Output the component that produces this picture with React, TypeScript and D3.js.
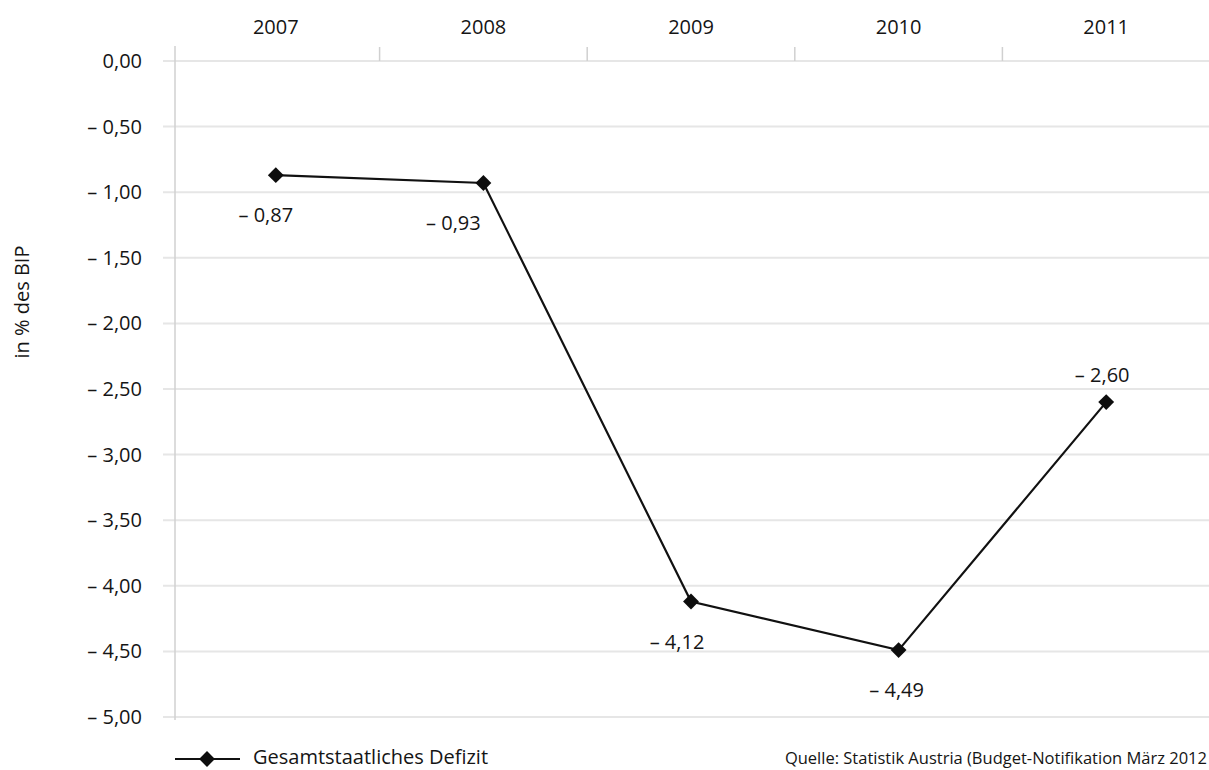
import React, { useEffect, useRef } from "react";
import * as d3 from "d3";

const years = ["2007", "2008", "2009", "2010", "2011"];
const deficit = [-0.87, -0.93, -4.12, -4.49, -2.6];
const yTicks = [0, -0.5, -1, -1.5, -2, -2.5, -3, -3.5, -4, -4.5, -5];
const seriesName = "Gesamtstaatliches Defizit";
const yTitle = "in % des BIP";
const sourceText = "Quelle: Statistik Austria (Budget-Notifikation März 2012";

// label layout (style, not data)
const labelSide = ["below", "below", "below", "below", "above"];
const labelDx = [-10, -30, -14, -2, -4];

const W = 1209;
const H = 770;
const FONT = "'Open Sans', 'Noto Sans', sans-serif";
const INK = "#151515";

const fmt = (v: number) => {
  const s = Math.abs(v).toFixed(2).replace(".", ",");
  return v < 0 ? "– " + s : s;
};

export default function App() {
  const ref = useRef<SVGSVGElement | null>(null);

  useEffect(() => {
    const svg = d3.select(ref.current);
    svg.selectAll("*").remove();

    const x = d3.scaleBand<string>().domain(years).range([172, 1210]);
    const y = d3.scaleLinear().domain([0, -5]).range([61, 717]);
    const cx = (d: string) => (x(d) as number) + x.bandwidth() / 2;

    svg.append("rect").attr("width", W).attr("height", H).attr("fill", "#ffffff");

    // gridlines
    svg
      .append("g")
      .selectAll("line")
      .data(yTicks)
      .join("line")
      .attr("x1", 163)
      .attr("x2", W)
      .attr("y1", (d) => y(d))
      .attr("y2", (d) => y(d))
      .attr("stroke", "#e6e6e6")
      .attr("stroke-width", 2);

    // vertical axis line
    svg
      .append("line")
      .attr("x1", 175)
      .attr("x2", 175)
      .attr("y1", 46)
      .attr("y2", 720)
      .attr("stroke", "#d0d0d0")
      .attr("stroke-width", 1.5);

    // top category boundary ticks
    svg
      .append("g")
      .selectAll("line")
      .data(years.slice(1))
      .join("line")
      .attr("x1", (d) => x(d) as number)
      .attr("x2", (d) => x(d) as number)
      .attr("y1", 47)
      .attr("y2", 61)
      .attr("stroke", "#d0d0d0")
      .attr("stroke-width", 1.5);

    // top category labels
    svg
      .append("g")
      .selectAll("text")
      .data(years)
      .join("text")
      .attr("x", (d) => cx(d))
      .attr("y", 27)
      .attr("dy", "0.35em")
      .attr("text-anchor", "middle")
      .attr("font-family", FONT)
      .attr("font-size", 20)
      .attr("fill", INK)
      .text((d) => d);

    // y tick labels
    svg
      .append("g")
      .selectAll("text")
      .data(yTicks)
      .join("text")
      .attr("x", 142)
      .attr("y", (d) => y(d))
      .attr("dy", "0.35em")
      .attr("text-anchor", "end")
      .attr("font-family", FONT)
      .attr("font-size", 20)
      .attr("fill", INK)
      .text((d) => fmt(d));

    // y title
    svg
      .append("text")
      .attr("transform", "translate(22,302) rotate(-90)")
      .attr("text-anchor", "middle")
      .attr("dy", "0.35em")
      .attr("font-family", FONT)
      .attr("font-size", 20)
      .attr("fill", INK)
      .text(yTitle);

    // line
    const line = d3
      .line<number>()
      .x((_, i) => cx(years[i]))
      .y((d) => y(d));
    svg
      .append("path")
      .datum(deficit)
      .attr("d", line)
      .attr("fill", "none")
      .attr("stroke", "#111111")
      .attr("stroke-width", 2.2);

    const diamond = d3.symbol().type(d3.symbolDiamond2).size(160);
    svg
      .append("g")
      .selectAll("path")
      .data(deficit)
      .join("path")
      .attr("d", diamond)
      .attr("transform", (d, i) => `translate(${cx(years[i])},${y(d)})`)
      .attr("fill", "#0d0d0d");

    // data labels
    svg
      .append("g")
      .selectAll("text")
      .data(deficit)
      .join("text")
      .attr("x", (d, i) => cx(years[i]) + labelDx[i])
      .attr("y", (d, i) => y(d) + (labelSide[i] === "above" ? -27 : 40))
      .attr("dy", "0.35em")
      .attr("text-anchor", "middle")
      .attr("font-family", FONT)
      .attr("font-size", 20)
      .attr("fill", INK)
      .text((d) => fmt(d));

    // legend
    const lg = svg.append("g");
    lg.append("line")
      .attr("x1", 175)
      .attr("x2", 240)
      .attr("y1", 759)
      .attr("y2", 759)
      .attr("stroke", "#111")
      .attr("stroke-width", 2.2);
    lg.append("path")
      .attr("d", diamond)
      .attr("transform", "translate(207,759)")
      .attr("fill", "#0d0d0d");
    lg.append("text")
      .attr("x", 253)
      .attr("y", 764)
      .attr("font-family", FONT)
      .attr("font-size", 20)
      .attr("fill", INK)
      .text(seriesName);

    // source
    svg
      .append("text")
      .attr("x", W - 2)
      .attr("y", 764)
      .attr("text-anchor", "end")
      .attr("font-family", FONT)
      .attr("font-size", 16.5)
      .attr("fill", INK)
      .text(sourceText);
  }, []);

  return (
    <svg
      ref={ref}
      width={W}
      height={H}
      style={{ position: "absolute", left: 0, top: 0, display: "block" }}
    />
  );
}
